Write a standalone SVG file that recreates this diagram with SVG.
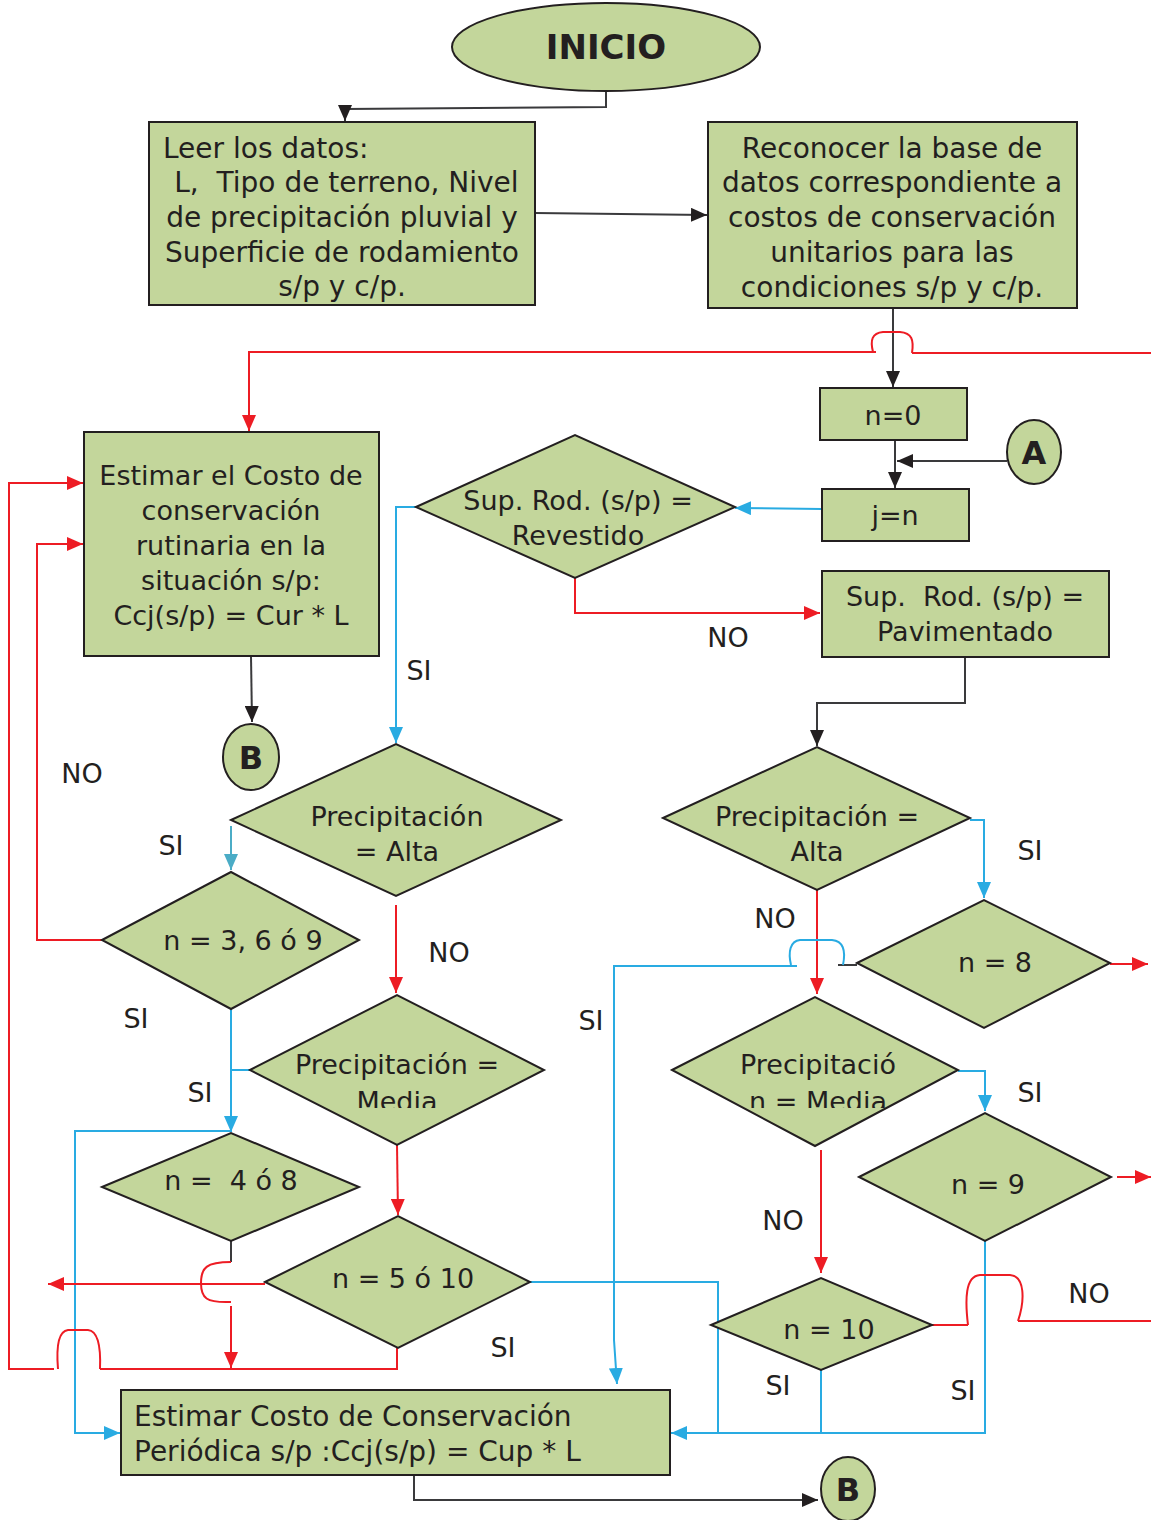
<svg xmlns="http://www.w3.org/2000/svg" width="1151" height="1520" viewBox="0 0 1151 1520">
<defs>
<style>
.n{fill:#c3d69b;stroke:#231f20;stroke-width:2}
.t{font-family:"DejaVu Sans",sans-serif;font-size:27px;fill:#231f20;text-anchor:middle}
.tb{font-size:28px}
.tl{text-anchor:start}
.bold{font-weight:bold}
.k{fill:none;stroke:#3a3a3c;stroke-width:2}
.r{fill:none;stroke:#ed1c24;stroke-width:2}
.b{fill:none;stroke:#29abe2;stroke-width:2}
.tq{fill:none;stroke:#4bacc6;stroke-width:2}
.lbl{font-family:"DejaVu Sans",sans-serif;font-size:27px;fill:#231f20;text-anchor:middle}
</style>
<marker id="ak" viewBox="0 0 16 14" refX="16" refY="7" markerWidth="16" markerHeight="14" orient="auto" markerUnits="userSpaceOnUse"><path d="M0,0 L16,7 L0,14 z" fill="#231f20"/></marker>
<marker id="ar" viewBox="0 0 16 14" refX="16" refY="7" markerWidth="16" markerHeight="14" orient="auto" markerUnits="userSpaceOnUse"><path d="M0,0 L16,7 L0,14 z" fill="#ed1c24"/></marker>
<marker id="ab" viewBox="0 0 16 14" refX="16" refY="7" markerWidth="16" markerHeight="14" orient="auto" markerUnits="userSpaceOnUse"><path d="M0,0 L16,7 L0,14 z" fill="#29abe2"/></marker>
<marker id="aq" viewBox="0 0 16 14" refX="16" refY="7" markerWidth="16" markerHeight="14" orient="auto" markerUnits="userSpaceOnUse"><path d="M0,0 L16,7 L0,14 z" fill="#4bacc6"/></marker>
<clipPath id="c1"><rect x="150" y="123" width="384" height="179"/></clipPath>
<clipPath id="cm1"><rect x="240" y="990" width="320" height="118"/></clipPath>
<clipPath id="cm2"><rect x="660" y="990" width="310" height="118"/></clipPath>
</defs>
<rect width="1151" height="1520" fill="#ffffff"/>

<g id="connectors">
<path class="k" d="M606,91 L606,107 L345,109 L345,121" marker-end="url(#ak)"/>
<path class="k" d="M535,213 L707,215" marker-end="url(#ak)"/>
<path class="k" d="M893,308 L893,387" marker-end="url(#ak)"/>
<path class="k" d="M895,440 L895,488" marker-end="url(#ak)"/>
<path class="k" d="M1007,461 L897,461" marker-end="url(#ak)"/>
<path class="r" d="M1151,353 L912,353"/>
<path class="r" d="M912,353 C914,340 912,333 900,332 L883,332 C872,333 870,340 873,352"/>
<path class="r" d="M876,352 L249,352 L249,431" marker-end="url(#ar)"/>
<path class="b" d="M822,509 L735,508" marker-end="url(#ab)"/>
<path class="r" d="M575,578 L575,613 L820,613" marker-end="url(#ar)"/>
<path class="k" d="M965,657 L965,703 L817,703 L817,746" marker-end="url(#ak)"/>
<path class="b" d="M416,507 L396,507 L396,743" marker-end="url(#ab)"/>
<path class="k" d="M251,656 L252,722" marker-end="url(#ak)"/>
<path class="tq" d="M231,826 L231,870" marker-end="url(#aq)"/>
<path class="r" d="M102,940 L37,940 L37,544 L83,544" marker-end="url(#ar)"/>
<path class="r" d="M396,905 L396,993" marker-end="url(#ar)"/>
<path class="b" d="M231,1009 L231,1132" marker-end="url(#ab)"/>
<path class="b" d="M250,1070 L231,1070"/>
<path class="b" d="M231,1131 L75,1131 L75,1433 L120,1433" marker-end="url(#ab)"/>
<path class="r" d="M397,1145 L398,1215" marker-end="url(#ar)"/>
<path class="r" d="M265,1284 L48,1284" marker-end="url(#ar)"/>
<path class="k" d="M231,1241 L231,1262"/>
<path class="r" d="M231,1262 C206,1262 201,1268 201,1283 C201,1298 206,1303 231,1302"/>
<path class="r" d="M231,1306 L231,1368" marker-end="url(#ar)"/>
<path class="r" d="M397,1348 L397,1369 L100,1369"/>
<path class="r" d="M100,1369 C101,1345 98,1331 88,1330 L68,1330 C59,1331 56,1345 58,1369"/>
<path class="r" d="M54,1369 L9,1369 L9,483 L83,483" marker-end="url(#ar)"/>
<path class="b" d="M530,1282 L718,1282 L718,1433"/>
<path class="b" d="M985,1241 L985,1433 L671,1433" marker-end="url(#ab)"/>
<path class="b" d="M821,1370 L821,1433"/>
<path class="k" d="M414,1475 L414,1500 L818,1500" marker-end="url(#ak)"/>
<path class="b" d="M970,820 L984,820 L984,898" marker-end="url(#ab)"/>
<path class="r" d="M817,890 L817,994" marker-end="url(#ar)"/>
<path class="k" d="M857,965 L838,965"/>
<path class="b" d="M843,965 C846,950 843,941 832,940 L800,940 C790,941 788,952 791,965"/>
<path class="b" d="M797,966 L614,966 L614,1340 L617,1384" marker-end="url(#ab)"/>
<path class="r" d="M1110,964 L1148,964" marker-end="url(#ar)"/>
<path class="b" d="M958,1071 L985,1071 L985,1111" marker-end="url(#ab)"/>
<path class="r" d="M821,1150 L821,1273" marker-end="url(#ar)"/>
<path class="r" d="M1117,1177 L1151,1177" marker-end="url(#ar)"/>
<path class="r" d="M932,1325 L968,1325"/>
<path class="r" d="M968,1325 C965,1300 965,1276 980,1275 L1010,1275 C1025,1276 1025,1300 1018,1321"/>
<path class="r" d="M1018,1321 L1151,1321"/>
</g>

<g id="labels">
<text class="lbl" x="728" y="647">NO</text>
<text class="lbl" x="419" y="680">SI</text>
<text class="lbl" x="82" y="783">NO</text>
<text class="lbl" x="171" y="855">SI</text>
<text class="lbl" x="449" y="962">NO</text>
<text class="lbl" x="136" y="1028">SI</text>
<text class="lbl" x="200" y="1102">SI</text>
<text class="lbl" x="503" y="1357">SI</text>
<text class="lbl" x="775" y="928">NO</text>
<text class="lbl" x="1030" y="860">SI</text>
<text class="lbl" x="591" y="1030">SI</text>
<text class="lbl" x="1030" y="1102">SI</text>
<text class="lbl" x="783" y="1230">NO</text>
<text class="lbl" x="1089" y="1303">NO</text>
<text class="lbl" x="778" y="1395">SI</text>
<text class="lbl" x="963" y="1400">SI</text>
</g>

<g id="inicio">
<ellipse class="n" cx="606" cy="47" rx="154" ry="44"/>
<text class="t bold" x="606" y="59" style="font-size:34px">INICIO</text>
</g>

<g id="leer">
<rect class="n" x="149" y="122" width="386" height="183"/>
<g clip-path="url(#c1)">
<text class="t tb tl" x="163" y="158">Leer los datos:</text>
<text class="t tb" x="342" y="192">&#160;L,&#160; Tipo de terreno, Nivel</text>
<text class="t tb" x="342" y="227">de precipitación pluvial y</text>
<text class="t tb" x="342" y="262">Superficie de rodamiento</text>
<text class="t tb" x="342" y="296">s/p y c/p.</text>
</g>
</g>

<g id="reconocer">
<rect class="n" x="708" y="122" width="369" height="186"/>
<text class="t tb" x="892" y="158">Reconocer la base de</text>
<text class="t tb" x="892" y="192">datos correspondiente a</text>
<text class="t tb" x="892" y="227">costos de conservación</text>
<text class="t tb" x="892" y="262">unitarios para las</text>
<text class="t tb" x="892" y="297">condiciones s/p y c/p.</text>
</g>

<g id="n0">
<rect class="n" x="820" y="388" width="147" height="52"/>
<text class="t" x="893" y="425">n=0</text>
</g>

<g id="A">
<ellipse class="n" cx="1034" cy="452" rx="27" ry="32"/>
<text class="t bold" x="1034" y="464" style="font-size:32px">A</text>
</g>

<g id="jn">
<rect class="n" x="822" y="489" width="147" height="52"/>
<text class="t" x="895" y="525">j=n</text>
</g>

<g id="revestido">
<polygon class="n" points="416,507 575,435 735,507 575,578"/>
<text class="t" x="578" y="510">Sup. Rod. (s/p) =</text>
<text class="t" x="578" y="545">Revestido</text>
</g>

<g id="pavimentado">
<rect class="n" x="822" y="571" width="287" height="86"/>
<text class="t" x="965" y="606">Sup.&#160; Rod. (s/p) =</text>
<text class="t" x="965" y="641">Pavimentado</text>
</g>

<g id="rutinaria">
<rect class="n" x="84" y="432" width="295" height="224"/>
<text class="t" x="231" y="485">Estimar el Costo de</text>
<text class="t" x="231" y="520">conservación</text>
<text class="t" x="231" y="555">rutinaria en la</text>
<text class="t" x="231" y="590">situación s/p:</text>
<text class="t" x="231" y="625">Ccj(s/p) = Cur * L</text>
</g>

<g id="B1">
<ellipse class="n" cx="251" cy="757" rx="28" ry="33"/>
<text class="t bold" x="251" y="769" style="font-size:32px">B</text>
</g>

<g id="precAltaL">
<polygon class="n" points="231,820 396,744 561,820 396,896"/>
<text class="t" x="397" y="826">Precipitación</text>
<text class="t" x="397" y="861">= Alta</text>
</g>

<g id="n369">
<polygon class="n" points="102,940 231,872 359,940 231,1009"/>
<text class="t" x="243" y="950">n = 3, 6 ó 9</text>
</g>

<g id="precMediaL">
<polygon class="n" points="250,1070 397,995 544,1070 397,1145"/>
<g clip-path="url(#cm1)">
<text class="t" x="397" y="1074">Precipitación =</text>
<text class="t" x="397" y="1111">Media</text>
</g>
</g>

<g id="n48">
<polygon class="n" points="102,1187 231,1133 359,1187 231,1241"/>
<text class="t" x="231" y="1190">n =&#160; 4 ó 8</text>
</g>

<g id="n510">
<polygon class="n" points="265,1282 398,1216 530,1282 398,1348"/>
<text class="t" x="403" y="1288">n = 5 ó 10</text>
</g>

<g id="periodica">
<rect class="n" x="121" y="1390" width="549" height="85"/>
<text class="t tb tl" x="134" y="1426">Estimar Costo de Conservación</text>
<text class="t tb tl" x="134" y="1461">Periódica s/p :Ccj(s/p) = Cup * L</text>
</g>

<g id="B2">
<ellipse class="n" cx="848" cy="1489" rx="27" ry="32"/>
<text class="t bold" x="848" y="1501" style="font-size:32px">B</text>
</g>

<g id="precAltaR">
<polygon class="n" points="663,818 817,747 970,818 817,890"/>
<text class="t" x="817" y="826">Precipitación =</text>
<text class="t" x="817" y="861">Alta</text>
</g>

<g id="n8">
<polygon class="n" points="857,963 984,900 1110,963 984,1028"/>
<text class="t" x="995" y="972">n = 8</text>
</g>

<g id="precMediaR">
<polygon class="n" points="672,1070 815,997 958,1070 815,1146"/>
<g clip-path="url(#cm2)">
<text class="t" x="818" y="1074">Precipitació</text>
<text class="t" x="818" y="1111">n = Media</text>
</g>
</g>

<g id="n9">
<polygon class="n" points="859,1177 985,1113 1111,1177 985,1241"/>
<text class="t" x="988" y="1194">n = 9</text>
</g>

<g id="n10">
<polygon class="n" points="711,1325 821,1278 932,1325 821,1370"/>
<text class="t" x="829" y="1339">n = 10</text>
</g>
</svg>
